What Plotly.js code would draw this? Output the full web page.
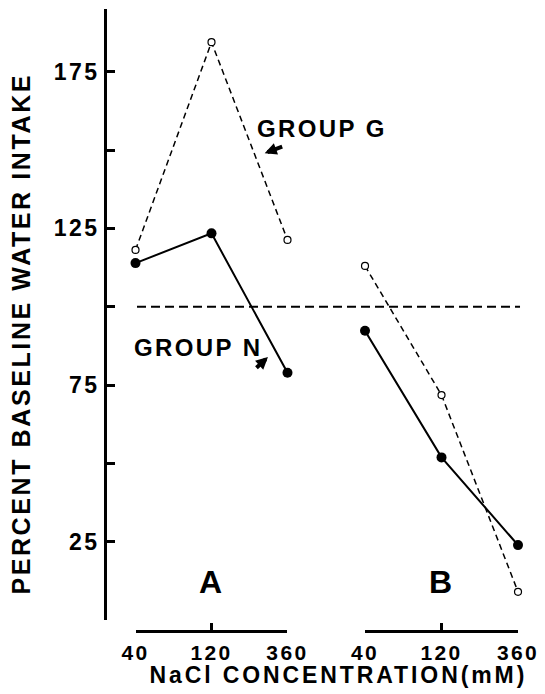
<!DOCTYPE html>
<html><head><meta charset="utf-8">
<script src="https://cdn.plot.ly/plotly-3.0.1.min.js"></script>
<style>
html,body{margin:0;padding:0;background:#fff;}
#chart{width:545px;height:694px;}
svg text{letter-spacing:2.4px;}
g.annotation[data-index="0"] text{letter-spacing:2.6px;}
g.annotation[data-index="1"] text{letter-spacing:2.9px;}
</style></head><body><div id="chart"></div>
<script>
// NaCl concentrations (mM), shown for both panels A and B
const concentrations = ['40','120','360'];
// Percent baseline water intake
const groupN_A = [113.9, 123.4, 78.9];
const groupG_A = [118.1, 184.4, 121.3];
const groupN_B = [92.3, 51.9, 23.9];
const groupG_B = [113.0, 71.8, 9.0];
const baselineValue = 100;
const yTickVals = [0, 25, 50, 75, 100, 125, 150, 175];
const yTickText = ['', '25', '', '75', '', '125', '', '175'];

const FONT = 'Liberation Sans, Arial, Helvetica, sans-serif';

function nTrace(x, y, xa) {
  return {x: x, y: y, xaxis: xa, yaxis: 'y', type: 'scatter', mode: 'lines+markers',
    line: {color: 'black', width: 2}, marker: {color: 'black', size: 10},
    cliponaxis: false, hoverinfo: 'none'};
}
function gTrace(x, y, xa) {
  return {x: x, y: y, xaxis: xa, yaxis: 'y', type: 'scatter', mode: 'lines+markers',
    line: {color: 'black', width: 1.5, dash: '6px,4px'},
    marker: {color: 'white', size: 7, line: {color: 'black', width: 1.2}},
    cliponaxis: false, hoverinfo: 'none'};
}

const data = [
  gTrace(concentrations, groupG_A, 'x'),
  nTrace(concentrations, groupN_A, 'x'),
  gTrace(concentrations, groupG_B, 'x2'),
  nTrace(concentrations, groupN_B, 'x2')
];

function xAxis(domain) {
  return {type: 'category', categoryorder: 'array', categoryarray: concentrations,
    domain: domain, range: [0, 2], anchor: 'free', position: 0,
    showline: true, linewidth: 2.5, linecolor: 'black',
    ticks: 'inside', ticklen: 7, tickwidth: 2.5, tickcolor: 'black',
    ticklabelstandoff: 2,
    showgrid: false, zeroline: false, tickfont: {size: 21, family: FONT, weight: 'bold'},
    fixedrange: true};
}

const layout = {
  width: 545, height: 694,
  margin: {l: 105, r: 15, t: 9, b: 63},
  paper_bgcolor: 'white', plot_bgcolor: 'white',
  showlegend: false,
  font: {family: FONT, size: 24, color: 'black', weight: 'bold'},
  xaxis: xAxis([0.0718, 0.4294]),
  xaxis2: xAxis([0.6118, 0.9718]),
  yaxis: {domain: [0.01768, 1], range: [0, 195], anchor: 'free', position: 0,
    showline: true, linewidth: 3, linecolor: 'black',
    ticks: 'inside', ticklen: 8, tickwidth: 3, tickcolor: 'black',
    tickmode: 'array', tickvals: yTickVals, ticktext: yTickText,
    tickfont: {size: 23, family: FONT, weight: 'bold'},
    showgrid: false, zeroline: false, fixedrange: true},
  shapes: [{type: 'line', xref: 'paper', yref: 'y', x0: 0.0753, x1: 0.9765,
    y0: baselineValue, y1: baselineValue,
    line: {color: 'black', width: 2, dash: '9px,5px'}}],
  annotations: [
    {text: 'PERCENT BASELINE WATER INTAKE', xref: 'paper', yref: 'paper',
     x: -0.1976, y: 0.478, textangle: -90, showarrow: false,
     xanchor: 'center', yanchor: 'middle', font: {size: 25}},
    {text: 'NaCl CONCENTRATION(mM)', xref: 'paper', yref: 'paper',
     x: 0.549, y: -0.0715, showarrow: false, xanchor: 'center', yanchor: 'middle',
     font: {size: 23}},
    {text: 'GROUP G', xref: 'x', yref: 'y', x: 1.57, y: 157, showarrow: false,
     xanchor: 'left', yanchor: 'middle', font: {size: 24}},
    {text: 'GROUP N', xref: 'paper', yref: 'y', x: 0.0635, y: 87.1, showarrow: false,
     xanchor: 'left', yanchor: 'middle', font: {size: 24}},
    {text: '', xref: 'x', yref: 'y', x: 1.70, y: 149, ax: 19, ay: -7,
     showarrow: true, arrowhead: 2, arrowsize: 0.6, arrowwidth: 4, arrowcolor: 'black'},
    {text: '', xref: 'x', yref: 'y', x: 1.743, y: 83.9, ax: -13, ay: 12,
     showarrow: true, arrowhead: 2, arrowsize: 0.6, arrowwidth: 4, arrowcolor: 'black'},
    {text: 'A', xref: 'x', yref: 'y', x: 1, y: 12, showarrow: false,
     xanchor: 'center', yanchor: 'middle', font: {size: 32}},
    {text: 'B', xref: 'x2', yref: 'y', x: 1, y: 12, showarrow: false,
     xanchor: 'center', yanchor: 'middle', font: {size: 32}}
  ]
};

Plotly.newPlot('chart', data, layout, {staticPlot: true, displayModeBar: false});
</script></body></html>
